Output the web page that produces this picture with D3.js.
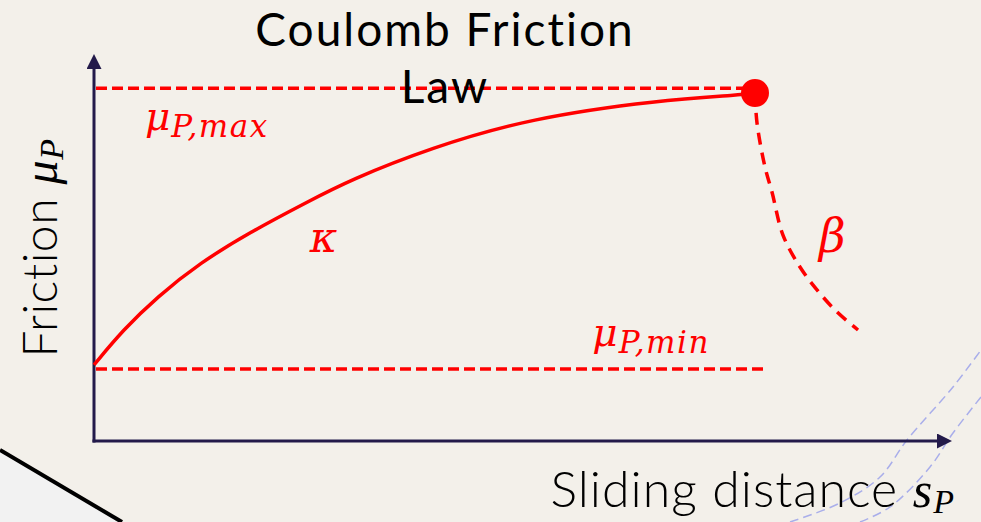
<!DOCTYPE html>
<html>
<head>
<meta charset="utf-8">
<script src="https://cdn.jsdelivr.net/npm/d3@7"></script>
<style>
body { margin: 0; background: #f3f0ea; }
svg { display: block; }
</style>
</head>
<body>
<div id="main"></div>
<script>
const ctx = {
    width: 981,
    height: 522
};

// courbe kappa : montée de mu_min vers mu_max
const kappaX = [0, 3.43, 7.45, 12.53, 18.44, 25.18, 30.26, 39.72, 51.54, 66.9, 76.6, 78.13];
const kappaY = [0.203, 0.296, 0.384, 0.475, 0.557, 0.637, 0.696, 0.781, 0.861, 0.909, 0.923, 0.928];
// courbe beta : chute après le pic
const betaX = [78.13, 78.37, 79.31, 80.14, 81.44, 83.45, 85.46, 87.83, 90.31];
const betaY = [0.928, 0.848, 0.731, 0.664, 0.549, 0.464, 0.403, 0.344, 0.296];
// niveaux horizontaux
const levelNames = ["max", "min"];
const levelY = [0.941, 0.192];
const levelEnd = [78.13, 79.1];
// pic
const peak = [78.13, 0.928];
// étiquettes
const labelText = ["μ", "κ", "β", "μ"];
const labelSub = ["P,max", "", "", "P,min"];
const labelX = [6.03, 25.5, 85.7, 58.9];
const labelY = [0.829, 0.504, 0.504, 0.253];
const labelSize = [39, 42, 46, 39];

// décor de la diapo
const decoA = [[790, 522], [840, 503], [880, 477], [907, 440], [953, 387], [981, 350]];
const decoB = [[860, 522], [890, 507], [930, 467], [953, 433], [981, 397]];
const decoEdge = [[0, 450], [122, 522]];

function createViz() {
    const svg = d3.select("#main").append("svg")
        .attr("width", ctx.width)
        .attr("height", ctx.height);

    svg.append("rect").attr("width", ctx.width).attr("height", ctx.height).attr("fill", "#f3f0ea");

    // décor
    svg.append("path")
        .attr("d", d3.line()(decoEdge.concat([[0, 522]])) + "Z")
        .attr("fill", "#f2f2f2");
    svg.append("path")
        .attr("d", d3.line()(decoEdge))
        .attr("stroke", "#000").attr("stroke-width", 4).attr("fill", "none");
    [decoA, decoB].forEach(pts => {
        svg.append("path")
            .attr("d", d3.line().curve(d3.curveCatmullRom)(pts))
            .attr("fill", "none")
            .attr("stroke", "#a9aeea")
            .attr("stroke-width", 1.5)
            .attr("stroke-dasharray", "9,5");
    });

    const x = d3.scaleLinear().domain([0, 100]).range([94, 940]);
    const y = d3.scaleLinear().domain([0, 1]).range([441, 66]);

    const defs = svg.append("defs");
    defs.append("marker")
        .attr("id", "arrow")
        .attr("viewBox", "0 0 10 10")
        .attr("refX", 2).attr("refY", 5)
        .attr("markerWidth", 5).attr("markerHeight", 5)
        .attr("markerUnits", "strokeWidth")
        .attr("orient", "auto")
        .append("path").attr("d", "M0,0L10,5L0,10Z").attr("fill", "#231a4a");

    // axes sans graduations
    const gx = svg.append("g").attr("transform", `translate(0,${y(0)})`)
        .call(d3.axisBottom(x).ticks(0).tickSizeOuter(0));
    const gy = svg.append("g").attr("transform", `translate(${x(0)},0)`)
        .call(d3.axisLeft(y).ticks(0).tickSizeOuter(0));
    gx.select(".domain").attr("stroke", "#231a4a").attr("stroke-width", 3)
        .attr("d", `M${x(0) - 1.5},0H${x(100)}`).attr("marker-end", "url(#arrow)");
    gy.select(".domain").attr("stroke", "#231a4a").attr("stroke-width", 3)
        .attr("d", `M0,${y(0) + 1.5}V${y(1)}`).attr("marker-end", "url(#arrow)");

    // niveaux mu max / mu min
    svg.selectAll(".level").data(levelNames).enter().append("line")
        .attr("x1", x(0) + 2)
        .attr("x2", (d, i) => x(levelEnd[i]))
        .attr("y1", (d, i) => y(levelY[i]))
        .attr("y2", (d, i) => y(levelY[i]))
        .attr("stroke", "red").attr("stroke-width", 3.5)
        .attr("stroke-dasharray", "11,5");

    // courbe lissée (basis) pour kappa, catmull-rom pour beta
    const smooth = d3.line().x(d => x(d[0])).y(d => y(d[1])).curve(d3.curveBasis);
    const line = d3.line().x(d => x(d[0])).y(d => y(d[1])).curve(d3.curveCatmullRom.alpha(0.5));

    svg.append("path")
        .attr("d", smooth(kappaX.map((v, i) => [v, kappaY[i]])))
        .attr("fill", "none").attr("stroke", "red").attr("stroke-width", 3.5);

    svg.append("path")
        .attr("d", line(betaX.map((v, i) => [v, betaY[i]])))
        .attr("fill", "none").attr("stroke", "red").attr("stroke-width", 3.5)
        .attr("stroke-dasharray", "12,8");

    svg.append("circle")
        .attr("cx", x(peak[0])).attr("cy", y(peak[1]))
        .attr("r", 14).attr("fill", "red");

    // étiquettes en italique
    const lab = svg.selectAll(".lab").data(labelText).enter().append("text")
        .attr("x", (d, i) => x(labelX[i]))
        .attr("y", (d, i) => y(labelY[i]))
        .attr("fill", "red")
        .style("font-family", "'DejaVu Serif', serif")
        .style("font-style", "italic")
        .style("font-size", (d, i) => labelSize[i] + "px");
    lab.append("tspan").text(d => d);
    lab.append("tspan")
        .attr("dy", 7)
        .attr("dx", 1)
        .style("font-size", "31px")
        .style("letter-spacing", "1.5px")
        .text((d, i) => labelSub[i]);

    // titre
    const title = svg.append("text")
        .attr("text-anchor", "middle")
        .style("font-family", "Lato, sans-serif")
        .style("font-size", "46px")
        .style("letter-spacing", "2px")
        .attr("fill", "#000");
    title.append("tspan").attr("x", 445).attr("y", 46).text("Coulomb Friction");
    title.append("tspan").attr("x", 445).attr("y", 103).text("Law");

    // titres des axes
    const xl = svg.append("text")
        .attr("x", 955).attr("y", 507)
        .attr("text-anchor", "end")
        .style("font-family", "Lato, sans-serif")
        .style("font-weight", 300)
        .style("letter-spacing", "1px")
        .style("font-size", "50px");
    xl.append("tspan").text("Sliding distance ");
    xl.append("tspan").style("font-family", "'Liberation Serif', serif").style("font-style", "italic").style("font-size", "50px").text("s");
    xl.append("tspan").attr("dy", 6).style("font-family", "'Liberation Serif', serif").style("font-style", "italic").style("font-size", "34px").text("P");

    const yl = svg.append("text")
        .attr("transform", "translate(57,248) rotate(-90)")
        .attr("text-anchor", "middle")
        .style("font-family", "Lato, sans-serif")
        .style("font-weight", 300)
        .style("letter-spacing", "0.5px")
        .style("font-size", "48px");
    yl.append("tspan").text("Friction ");
    yl.append("tspan").style("font-family", "'Liberation Serif', serif").style("font-style", "italic").style("font-size", "48px").text("μ");
    yl.append("tspan").attr("dy", 6).style("font-family", "'Liberation Serif', serif").style("font-style", "italic").style("font-size", "34px").text("P");
}

createViz();
</script>
</body>
</html>
